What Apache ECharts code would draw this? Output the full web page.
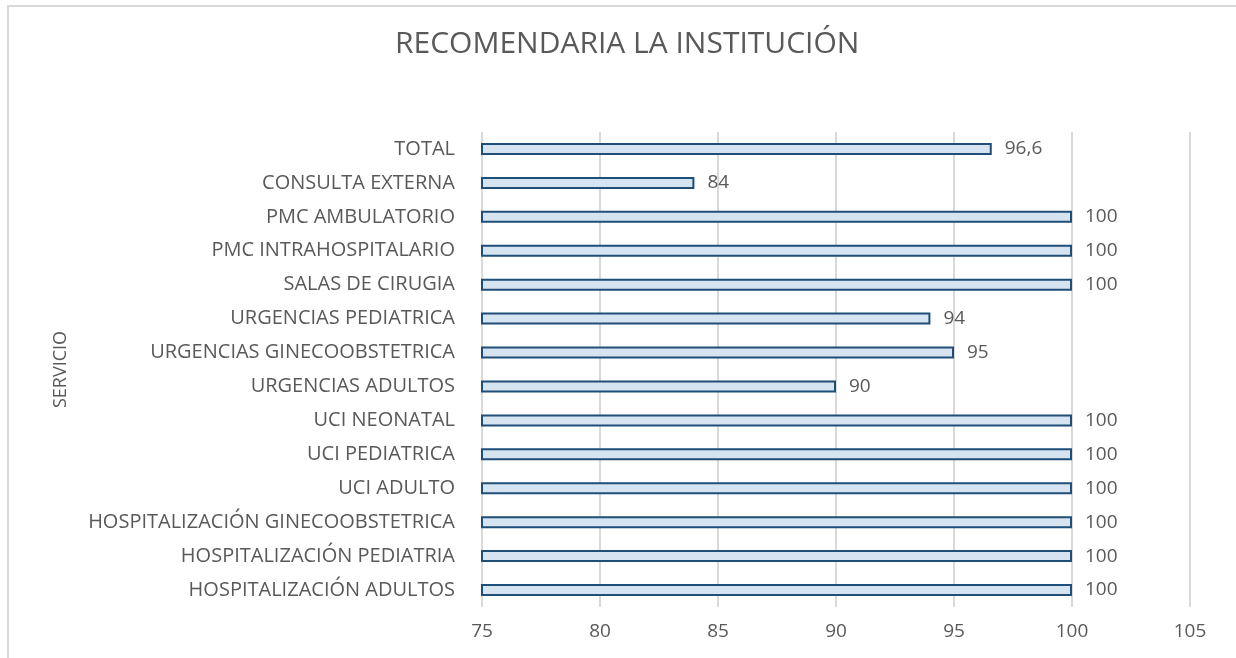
<!DOCTYPE html>
<html>
<head>
<meta charset="utf-8">
<script src="https://cdn.jsdelivr.net/npm/echarts@6/dist/echarts.min.js"></script>
<style>
  html, body { margin: 0; padding: 0; background: #fff; }
  #main { width: 1236px; height: 658px; }
</style>
</head>
<body>
<div id="main"></div>
<script>
// categories listed bottom to top, as the category axis draws them
const servicios = [
  'HOSPITALIZACIÓN ADULTOS',
  'HOSPITALIZACIÓN PEDIATRIA',
  'HOSPITALIZACIÓN GINECOOBSTETRICA',
  'UCI ADULTO',
  'UCI PEDIATRICA',
  'UCI NEONATAL',
  'URGENCIAS ADULTOS',
  'URGENCIAS GINECOOBSTETRICA',
  'URGENCIAS PEDIATRICA',
  'SALAS DE CIRUGIA',
  'PMC INTRAHOSPITALARIO',
  'PMC AMBULATORIO',
  'CONSULTA EXTERNA',
  'TOTAL'
]
const valores = [100, 100, 100, 100, 100, 100, 90, 95, 94, 100, 100, 100, 84, 96.6]

const ejeMin = 75
const ejeMax = 105
const ejeIntervalo = 5

const fontFam = '"Open Sans", "Liberation Sans", sans-serif'
const gris = '#595959'

const chart = echarts.init(document.getElementById('main'))

const option = {
  animation: false,
  backgroundColor: '#fff',
  title: {
    text: 'RECOMENDARIA LA INSTITUCIÓN',
    left: 390,
    top: 24,
    textStyle: {
      fontFamily: fontFam,
      fontSize: 30,
      fontWeight: 'normal',
      color: gris
    }
  },
  graphic: [
    {
      // marco del gráfico
      type: 'rect',
      shape: { x: 8, y: 6, width: 1300, height: 700 },
      style: { fill: 'none', stroke: '#d9d9d9', lineWidth: 2 },
      silent: true
    }
  ],
  grid: {
    left: 482,
    right: 46,
    top: 132,
    bottom: 51
  },
  xAxis: {
    type: 'value',
    min: ejeMin,
    max: ejeMax,
    interval: ejeIntervalo,
    axisLine: { show: false },
    axisTick: { show: false },
    axisLabel: {
      color: gris,
      fontFamily: fontFam,
      fontSize: 19,
      margin: 15
    },
    splitLine: {
      show: true,
      lineStyle: { color: '#d9d9d9', width: 2 }
    }
  },
  yAxis: {
    type: 'category',
    data: servicios,
    name: 'SERVICIO',
    nameLocation: 'middle',
    nameGap: 412,
    nameRotate: 90,
    nameTextStyle: {
      color: gris,
      fontFamily: fontFam,
      fontSize: 18
    },
    axisLine: { show: false },
    axisTick: { show: false },
    axisLabel: {
      color: gris,
      fontFamily: fontFam,
      fontSize: 20,
      margin: 27
    },
    splitLine: { show: false }
  },
  series: [
    {
      type: 'bar',
      data: valores,
      barWidth: 12,
      itemStyle: {
        color: '#d6e3f1',
        borderColor: '#1f4e79',
        borderWidth: 2
      },
      label: {
        show: true,
        position: 'right',
        distance: 13,
        color: gris,
        fontFamily: fontFam,
        fontSize: 19,
        formatter: p => String(p.value).replace('.', ',')
      }
    }
  ]
}

chart.setOption(option)
</script>
</body>
</html>
